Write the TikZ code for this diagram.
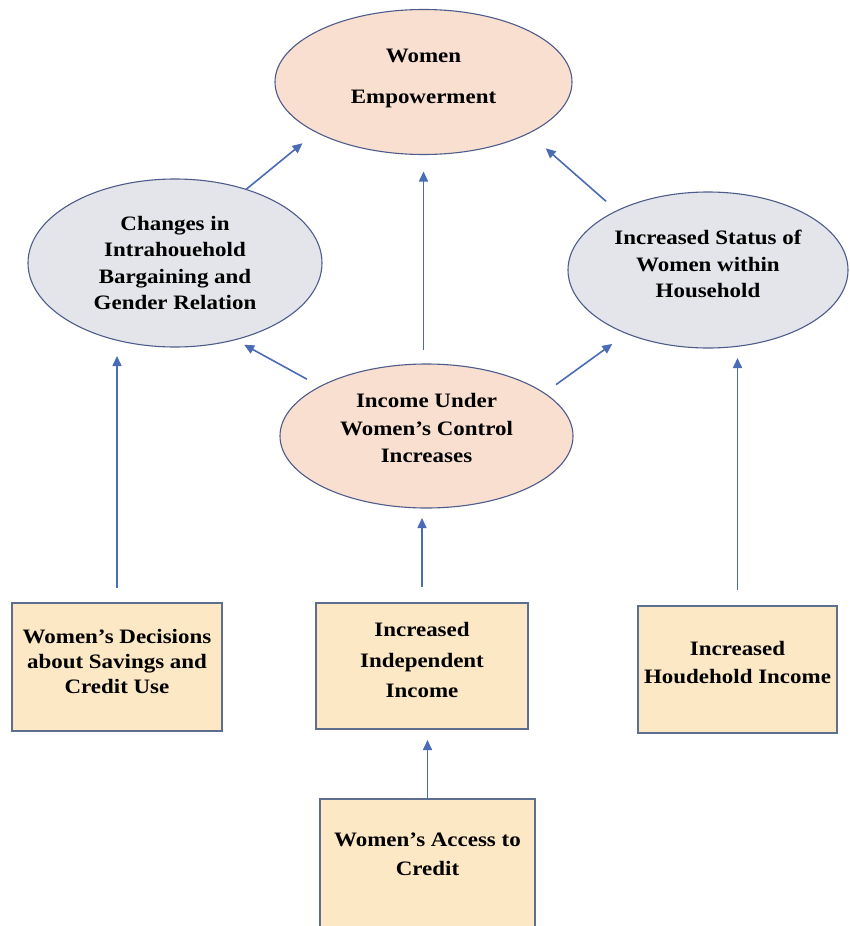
\documentclass[tikz,border=0pt]{standalone}
\usepackage{fontspec}
\setmainfont{Liberation Serif}[FakeStretch=1.12]
\usetikzlibrary{arrows.meta,shapes.geometric}
\definecolor{peach}{HTML}{F8DFD0}
\definecolor{greyblue}{HTML}{E4E5EA}
\definecolor{boxfill}{HTML}{FCE8C5}
\definecolor{ellline}{HTML}{4E5C8C}
\definecolor{boxline}{HTML}{5E6E8E}
\definecolor{arrowblue}{HTML}{4A6BB5}
\begin{document}
\begin{tikzpicture}[x=1pt,y=-1pt,
  ell/.style={ellipse, draw=ellline, line width=1.1pt, inner sep=0pt, outer sep=0pt,
    align=center, font=\bfseries\fontsize{20.5}{26.5}\selectfont},
  boxnode/.style={rectangle, draw=boxline, line width=1.3pt, fill=boxfill, inner sep=0pt,
    outer sep=0pt, align=center, font=\bfseries\fontsize{20.5}{25}\selectfont},
  arr/.style={draw=arrowblue, line width=1.6pt, -{Triangle[length=10pt,width=9pt]}}
]
\useasboundingbox (0,0) rectangle (849,926);
\clip (0,0) rectangle (849,926);
\fill[white] (0,0) rectangle (849,926);

% ellipses
\node[ell, fill=peach, minimum width=297pt, minimum height=145pt,
  font=\bfseries\fontsize{20.5}{41}\selectfont] (we) at (423.5,82)
  {Women\\Empowerment\rule[-11pt]{0pt}{11pt}};
\node[ell, fill=greyblue, minimum width=294pt, minimum height=168pt] (ch) at (175,263)
  {Changes in\\Intrahouehold\\Bargaining and\\Gender Relation};
\node[ell, fill=greyblue, minimum width=280pt, minimum height=156pt] (st) at (708,270)
  {Increased Status of\\Women within\\Household\rule[-12pt]{0pt}{12pt}};
\node[ell, fill=peach, minimum width=293pt, minimum height=144pt,
  font=\bfseries\fontsize{20.5}{27.5}\selectfont] (inc) at (426.5,436)
  {Income Under\\Women’s Control\\Increases\rule[-16pt]{0pt}{16pt}};

% boxes
\node[boxnode, minimum width=210pt, minimum height=128pt] (lb) at (117,667)
  {Women’s Decisions\\about Savings and\\Credit Use\rule[-12pt]{0pt}{12pt}};
\node[boxnode, minimum width=212pt, minimum height=126pt,
  font=\bfseries\fontsize{20.5}{30.5}\selectfont] (mb) at (422,666)
  {Increased\\Independent\\Income\rule[-12pt]{0pt}{12pt}};
\node[boxnode, minimum width=199pt, minimum height=127pt,
  font=\bfseries\fontsize{20.5}{28}\selectfont] (rb) at (737.5,669.5)
  {Increased\\Houdehold Income\rule[-15pt]{0pt}{15pt}};
\node[boxnode, minimum width=215pt, minimum height=140pt,
  font=\bfseries\fontsize{20.5}{29}\selectfont] (bb) at (427.5,869)
  {Women’s Access to\\Credit\rule[-30pt]{0pt}{30pt}};

% connectors
\draw[arr, shorten >=17.7pt] (ch.46) -- (we.205);
\draw[arr, shorten <=14pt, shorten >=17pt] (we.south |- inc.north) -- (we.south);
\draw[arr, shorten <=14.4pt, shorten >=22.8pt] (st.147.7) -- (we.334.2);
\draw[arr, shorten <=15.1pt, shorten >=10.5pt] (inc.155.8) -- (ch.308);
\draw[arr, shorten <=14.6pt, shorten >=17.8pt] (inc.20.7) -- (st.218.6);
\draw[arr, shorten <=15pt, shorten >=9pt] (lb.north) -- (lb.north |- ch.south);
\draw[arr, shorten <=16pt, shorten >=10pt] (mb.north) -- (mb.north |- inc.south);
\draw[arr, shorten <=16pt, shorten >=10pt] (rb.north) -- (rb.north |- st.south);
\draw[arr, shorten >=11pt] (bb.north) -- (bb.north |- mb.south);
\end{tikzpicture}
\end{document}
